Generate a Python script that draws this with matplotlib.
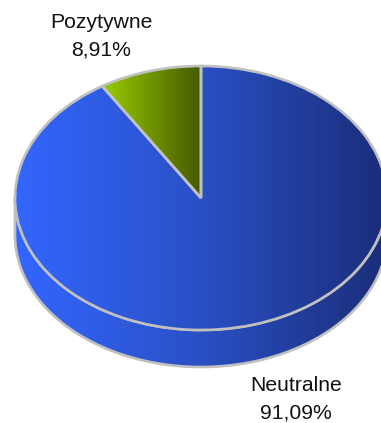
import numpy as np
import matplotlib.pyplot as plt
from matplotlib.colors import LinearSegmentedColormap
from matplotlib.patches import Polygon

plt.rcParams['font.family'] = ['Liberation Sans', 'DejaVu Sans']

labels = ['Pozytywne', 'Neutralne']
values = [8.91, 91.09]
label_pos = [(101, 36), (296, 399)]

W, H = 381, 423
cx, cy = 201, 198      # centre of the top face, px
rx, ry = 186, 132      # radii of the top face, px
depth = 37             # height of the disc, px
edge = '#c0c0c0'

fig = plt.figure(figsize=(W / 100, H / 100), dpi=100)
ax = fig.add_axes([0, 0, 1, 1])

blue = LinearSegmentedColormap.from_list('blue', ['#3366ff', '#2a50c4', '#1a2d78'])
green = LinearSegmentedColormap.from_list('green', ['#99cc00', '#455a00'])
ramp = np.linspace(0, 1, 256).reshape(1, -1)

wedges, _ = ax.pie(values, startangle=90, counterclock=True, radius=1,
                   wedgeprops=dict(facecolor='none', edgecolor=edge, linewidth=1.9, zorder=3))
ax.set_aspect('auto')

# side of the disc: lower half of the ellipse pushed down by the depth
d = depth / ry
t = np.linspace(np.pi, 2 * np.pi, 200)
side_xy = np.vstack([np.c_[np.cos(t), np.sin(t) - d],
                     np.c_[np.cos(t[::-1]), np.sin(t[::-1])]])
side = Polygon(side_xy, closed=True, facecolor='none', edgecolor=edge, linewidth=1.9, zorder=1)
ax.add_patch(side)
side_im = ax.imshow(ramp, cmap=blue, extent=(-1, 1, -1 - d, 1), aspect='auto', zorder=0.5,
                    interpolation='bilinear')
side_im.set_clip_path(side)

# top face, each slice with its own left-to-right gradient
top_pz = ax.imshow(ramp, cmap=green, aspect='auto', zorder=2, interpolation='bilinear',
                   extent=(-np.sin(np.radians(values[0] * 3.6)), 0, 0, 1))
top_pz.set_clip_path(wedges[0])
top_ne = ax.imshow(ramp, cmap=blue, aspect='auto', zorder=2, interpolation='bilinear',
                   extent=(-1, 1, -1, 1))
top_ne.set_clip_path(wedges[1])

# axes limits so that one data unit equals rx / ry pixels
ax.set_xlim(-cx / rx, (W - cx) / rx)
ax.set_ylim((cy - H) / ry, cy / ry)
ax.axis('off')

for name, val, (px, py) in zip(labels, values, label_pos):
    txt = name + '\n' + ('%.2f%%' % val).replace('.', ',')
    ax.text((px - cx) / rx, (cy - py) / ry, txt, ha='center', va='center',
            fontsize=15.2, color='#111111', linespacing=1.6)

fig.savefig('out.png', dpi=100)
